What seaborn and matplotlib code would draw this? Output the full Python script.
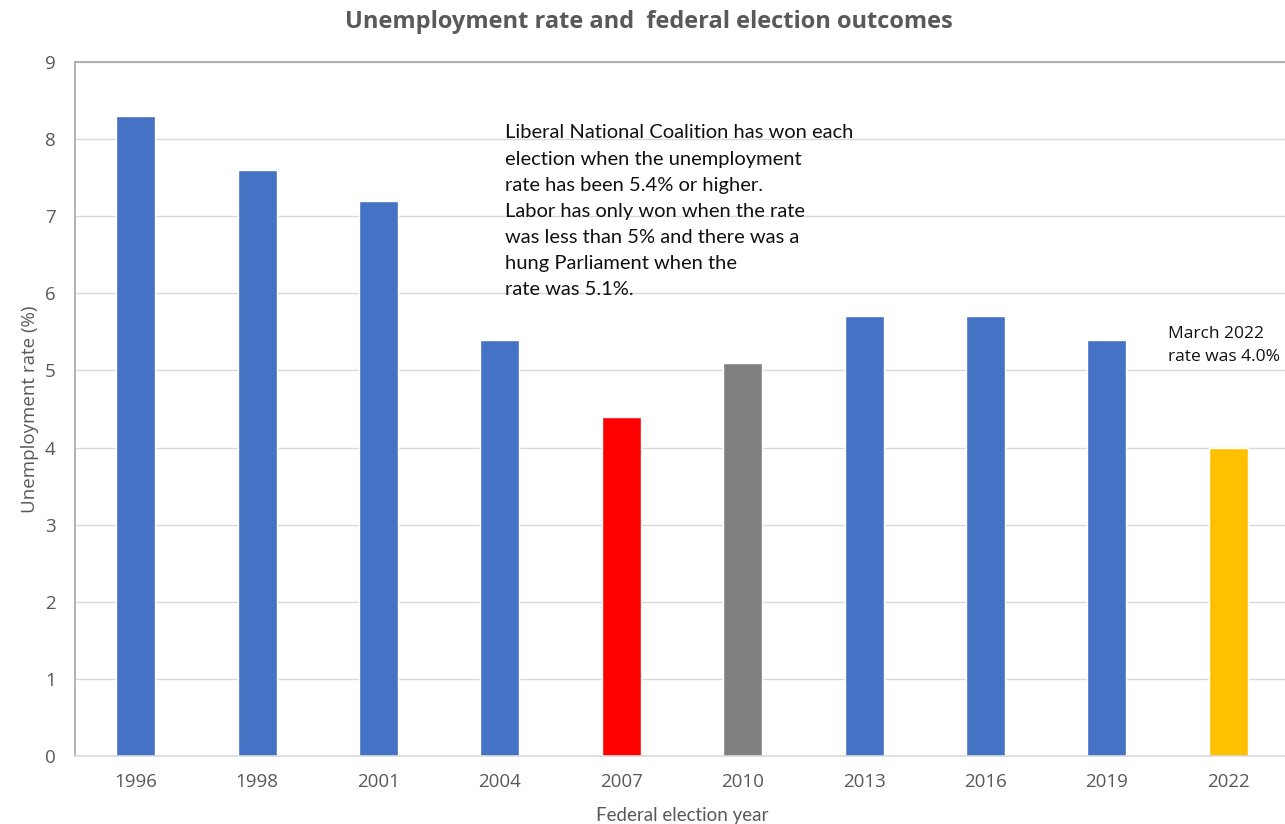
import matplotlib
matplotlib.use("Agg")
import matplotlib.pyplot as plt
import seaborn as sns
import pandas as pd

# Election years and unemployment rate at each election (%)
years = ["1996", "1998", "2001", "2004", "2007", "2010", "2013", "2016", "2019", "2022"]
rates = [8.3, 7.6, 7.2, 5.4, 4.4, 5.1, 5.7, 5.7, 5.4, 4.0]
outcomes = ["Coalition", "Coalition", "Coalition", "Coalition", "Labor",
            "Hung", "Coalition", "Coalition", "Coalition", "Current"]
yticks = [0, 1, 2, 3, 4, 5, 6, 7, 8, 9]

outcome_colors = {"Coalition": "#4472C4", "Labor": "#FF0000",
                  "Hung": "#808080", "Current": "#FFC000"}

df = pd.DataFrame({"year": years, "rate": rates, "outcome": outcomes})

sns.set_style("white")
plt.rcParams["font.family"] = ["Open Sans", "DejaVu Sans"]

fig = plt.figure(figsize=(12.85, 8.24), dpi=100)
ax = fig.add_axes([75 / 1285, 1 - 756 / 824, 1214 / 1285, (756 - 62) / 824])

sns.barplot(data=df, x="year", y="rate", hue="outcome", palette=outcome_colors,
            dodge=False, legend=False, width=0.32, saturation=1, ax=ax)

ax.set_xlim(-0.5, 9.5)
ax.set_ylim(0, 9)
ax.set_yticks(yticks)
ax.set_yticklabels([str(t) for t in yticks])
ax.yaxis.grid(True, color="#D9D9D9", linewidth=1)
ax.set_axisbelow(True)
ax.tick_params(axis="both", length=0, labelsize=13.5, labelcolor="#595959")
ax.tick_params(axis="x", pad=12)
ax.tick_params(axis="y", pad=14)

for side in ["left", "top"]:
    ax.spines[side].set_color("#A6A6A6")
    ax.spines[side].set_linewidth(1.2)
ax.spines["bottom"].set_color("#D9D9D9")
ax.spines["bottom"].set_linewidth(1.2)
ax.spines["right"].set_visible(False)

ax.set_xlabel("Federal election year", fontsize=13.5, color="#595959",
              family=["Lato", "DejaVu Sans"], labelpad=12)
ax.set_ylabel("Unemployment rate (%)", fontsize=13.5, color="#595959", labelpad=4)

fig.text(0.505, 1 - 22 / 824, "Unemployment rate and  federal election outcomes",
         ha="center", va="center", fontsize=17, fontweight="bold", color="#595959")

note = ("Liberal National Coalition has won each\n"
        "election when the unemployment\n"
        "rate has been 5.4% or higher.\n"
        "Labor has only won when the rate\n"
        "was less than 5% and there was a\n"
        "hung Parliament when the\n"
        "rate was 5.1%.")
ax.text(3.04, 8.19, note, ha="left", va="top", fontsize=14.5, color="#111111",
        family=["Lato", "DejaVu Sans"], linespacing=1.65)

ax.text(8.5, 5.57, "March 2022\nrate was 4.0%", ha="left", va="top", fontsize=12.5,
        color="#111111", family=["Open Sans", "DejaVu Sans"], linespacing=1.52)

fig.savefig("out.png", dpi=100, facecolor="white")
